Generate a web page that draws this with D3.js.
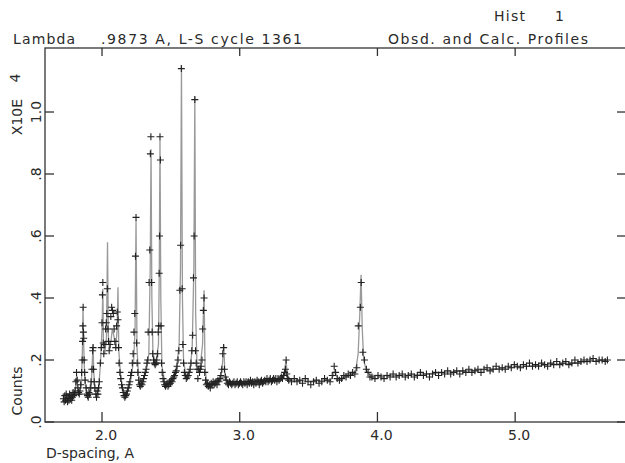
<!DOCTYPE html>
<meta charset="utf-8">
<style>
  body { margin: 0; background: #fff; }
  text { font-family: "DejaVu Sans", sans-serif; fill: #2a2a2a; }
</style>
<svg width="625" height="463"></svg>
<script src="https://d3js.org/d3.v7.min.js"></script>
<script>

// observed profile, [d-spacing (A), counts x 1e4]
var obsPoints = [
  [1.72,0.075],[1.725,0.065],[1.73,0.085],[1.735,0.07],[1.74,0.09],[1.745,0.075],[1.75,0.065],[1.755,0.08],
  [1.76,0.07],[1.765,0.09],[1.77,0.075],[1.775,0.085],[1.78,0.07],[1.785,0.08],[1.79,0.095],[1.795,0.085],
  [1.80,0.09],[1.805,0.1],[1.81,0.13],[1.815,0.16],[1.82,0.135],[1.825,0.11],[1.83,0.095],[1.835,0.09],
  [1.84,0.1],[1.845,0.12],[1.852,0.16],[1.856,0.2],[1.859,0.26],[1.861,0.31],[1.863,0.37],[1.865,0.29],
  [1.867,0.27],[1.87,0.2],[1.874,0.16],[1.878,0.135],[1.885,0.11],[1.89,0.09],[1.895,0.085],[1.90,0.08],
  [1.905,0.095],[1.91,0.09],[1.915,0.11],[1.92,0.13],[1.927,0.17],[1.932,0.23],[1.935,0.24],[1.938,0.17],
  [1.943,0.13],[1.948,0.11],[1.955,0.09],[1.96,0.08],[1.965,0.1],[1.97,0.09],[1.975,0.11],[1.98,0.13],
  [1.988,0.19],[1.995,0.24],[2.0,0.32],[2.003,0.41],[2.006,0.45],[2.009,0.255],[2.013,0.22],[2.02,0.25],
  [2.026,0.3],[2.031,0.32],[2.035,0.35],[2.039,0.43],[2.043,0.3],[2.047,0.26],[2.052,0.23],[2.058,0.25],
  [2.064,0.34],[2.07,0.37],[2.076,0.36],[2.082,0.35],[2.088,0.3],[2.094,0.26],[2.1,0.24],[2.106,0.31],
  [2.111,0.355],[2.116,0.33],[2.12,0.24],[2.124,0.19],[2.13,0.16],[2.136,0.14],[2.142,0.12],[2.148,0.11],
  [2.154,0.095],[2.16,0.085],[2.166,0.08],[2.172,0.085],[2.178,0.09],[2.184,0.1],[2.19,0.11],[2.196,0.12],
  [2.202,0.13],[2.208,0.15],[2.214,0.16],[2.22,0.19],[2.226,0.22],[2.232,0.29],[2.238,0.35],[2.243,0.535],
  [2.247,0.66],[2.251,0.255],[2.255,0.19],[2.26,0.16],[2.266,0.135],[2.272,0.12],[2.278,0.115],[2.284,0.125],
  [2.29,0.12],[2.296,0.13],[2.302,0.14],[2.308,0.15],[2.314,0.16],[2.32,0.17],[2.326,0.19],[2.332,0.2],
  [2.335,0.29],[2.342,0.45],[2.347,0.555],[2.351,0.865],[2.355,0.92],[2.36,0.45],[2.364,0.29],[2.368,0.22],
  [2.374,0.2],[2.38,0.19],[2.386,0.185],[2.392,0.19],[2.398,0.2],[2.404,0.22],[2.408,0.29],[2.412,0.31],
  [2.415,0.48],[2.418,0.6],[2.421,0.92],[2.424,0.845],[2.428,0.31],[2.432,0.19],[2.437,0.16],[2.443,0.14],
  [2.449,0.13],[2.455,0.12],[2.461,0.115],[2.467,0.12],[2.473,0.125],[2.479,0.115],[2.485,0.12],[2.491,0.13],
  [2.497,0.125],[2.503,0.135],[2.509,0.13],[2.515,0.14],[2.521,0.145],[2.527,0.15],[2.533,0.16],[2.539,0.165],
  [2.545,0.18],[2.552,0.2],[2.558,0.23],[2.565,0.425],[2.571,0.57],[2.576,1.14],[2.582,0.43],[2.587,0.25],
  [2.592,0.19],[2.598,0.16],[2.605,0.15],[2.612,0.14],[2.619,0.145],[2.626,0.15],[2.633,0.16],[2.64,0.17],
  [2.646,0.19],[2.652,0.23],[2.658,0.28],[2.664,0.465],[2.669,0.6],[2.674,1.04],[2.679,0.23],[2.684,0.19],
  [2.69,0.17],[2.696,0.14],[2.702,0.17],[2.708,0.16],[2.714,0.17],[2.72,0.18],[2.726,0.2],[2.731,0.3],
  [2.736,0.36],[2.741,0.40],[2.746,0.16],[2.752,0.135],[2.758,0.12],[2.765,0.125],[2.772,0.115],[2.779,0.12],
  [2.786,0.11],[2.793,0.125],[2.8,0.12],[2.807,0.13],[2.814,0.12],[2.821,0.125],[2.828,0.13],[2.835,0.12],
  [2.842,0.135],[2.849,0.13],[2.856,0.14],[2.863,0.15],[2.87,0.17],[2.877,0.22],[2.883,0.24],[2.889,0.17],
  [2.895,0.145],[2.902,0.135],[2.91,0.125],[2.918,0.12],[2.926,0.13],[2.934,0.125],[2.942,0.12],[2.95,0.125],
  [2.958,0.13],[2.966,0.12],[2.974,0.125],[2.982,0.13],[2.99,0.12],[2.998,0.125],[3.006,0.13],[3.014,0.125],
  [3.022,0.12],[3.03,0.13],[3.038,0.125],[3.046,0.13],[3.054,0.12],[3.062,0.13],[3.07,0.125],[3.078,0.135],
  [3.086,0.125],[3.094,0.13],[3.102,0.12],[3.11,0.13],[3.118,0.125],[3.126,0.135],[3.134,0.13],[3.142,0.12],
  [3.15,0.13],[3.158,0.135],[3.166,0.125],[3.174,0.13],[3.182,0.135],[3.19,0.13],[3.198,0.14],[3.206,0.13],
  [3.214,0.135],[3.222,0.14],[3.23,0.13],[3.238,0.135],[3.246,0.14],[3.254,0.135],[3.262,0.14],[3.27,0.13],
  [3.278,0.14],[3.286,0.135],[3.294,0.14],[3.302,0.145],[3.31,0.14],[3.318,0.15],[3.326,0.16],[3.332,0.17],
  [3.337,0.2],[3.342,0.155],[3.348,0.14],[3.356,0.135],[3.376,0.13],[3.396,0.14],[3.416,0.13],[3.436,0.135],
  [3.456,0.125],[3.476,0.14],[3.496,0.13],[3.516,0.12],[3.536,0.13],[3.556,0.135],[3.576,0.125],[3.596,0.13],
  [3.616,0.14],[3.636,0.135],[3.656,0.13],[3.672,0.15],[3.686,0.18],[3.696,0.16],[3.708,0.14],[3.724,0.135],
  [3.74,0.14],[3.756,0.15],[3.772,0.145],[3.788,0.155],[3.804,0.15],[3.82,0.16],[3.836,0.155],[3.85,0.175],
  [3.861,0.31],[3.876,0.37],[3.882,0.45],[3.894,0.225],[3.906,0.2],[3.92,0.17],[3.932,0.16],[3.946,0.145],
  [3.96,0.145],[3.982,0.14],[4.004,0.15],[4.026,0.145],[4.048,0.14],[4.07,0.15],[4.092,0.145],[4.114,0.155],
  [4.136,0.145],[4.158,0.15],[4.18,0.155],[4.202,0.145],[4.224,0.15],[4.246,0.155],[4.268,0.145],[4.29,0.15],
  [4.312,0.16],[4.334,0.15],[4.356,0.155],[4.378,0.145],[4.4,0.155],[4.422,0.16],[4.444,0.15],[4.466,0.16],
  [4.488,0.155],[4.51,0.165],[4.532,0.155],[4.554,0.16],[4.576,0.165],[4.598,0.155],[4.62,0.165],[4.642,0.16],
  [4.664,0.17],[4.686,0.16],[4.708,0.165],[4.73,0.17],[4.752,0.16],[4.774,0.17],[4.796,0.175],[4.818,0.165],
  [4.84,0.17],[4.862,0.18],[4.884,0.17],[4.906,0.175],[4.928,0.17],[4.95,0.18],[4.972,0.175],[4.994,0.185],
  [5.016,0.18],[5.038,0.175],[5.06,0.185],[5.082,0.18],[5.104,0.19],[5.126,0.18],[5.148,0.185],[5.17,0.18],
  [5.192,0.19],[5.214,0.185],[5.236,0.18],[5.258,0.19],[5.28,0.185],[5.302,0.195],[5.324,0.185],[5.346,0.19],
  [5.368,0.195],[5.39,0.185],[5.412,0.19],[5.434,0.2],[5.456,0.19],[5.478,0.195],[5.5,0.2],[5.522,0.195],
  [5.544,0.2],[5.566,0.205],[5.588,0.195],[5.61,0.2],[5.632,0.2],[5.654,0.195],[5.67,0.2]
];

// calculated profile
var calcPoints = [
  [1.72,0.075],[1.80,0.085],[1.81,0.12],[1.816,0.15],[1.822,0.11],[1.835,0.09],[1.85,0.12],[1.857,0.22],
  [1.862,0.37],[1.867,0.25],[1.875,0.13],[1.89,0.09],[1.92,0.1],[1.93,0.2],[1.935,0.25],[1.94,0.16],
  [1.95,0.1],[1.975,0.1],[1.99,0.2],[2.0,0.3],[2.006,0.43],[2.011,0.25],[2.02,0.22],[2.032,0.27],
  [2.04,0.58],[2.046,0.28],[2.055,0.23],[2.065,0.26],[2.075,0.3],[2.085,0.28],[2.1,0.24],[2.11,0.3],
  [2.116,0.435],[2.122,0.23],[2.135,0.15],[2.15,0.11],[2.167,0.085],[2.19,0.1],[2.21,0.14],[2.23,0.2],
  [2.24,0.3],[2.247,0.65],[2.254,0.24],[2.265,0.15],[2.29,0.125],[2.32,0.16],[2.34,0.22],[2.35,0.5],
  [2.356,0.88],[2.362,0.4],[2.37,0.22],[2.39,0.19],[2.41,0.25],[2.416,0.5],[2.421,0.91],[2.427,0.4],
  [2.435,0.18],[2.46,0.12],[2.5,0.13],[2.54,0.17],[2.56,0.25],[2.57,0.5],[2.577,1.15],[2.584,0.4],
  [2.592,0.2],[2.61,0.145],[2.64,0.17],[2.655,0.24],[2.667,0.5],[2.674,1.05],[2.68,0.35],[2.69,0.18],
  [2.71,0.165],[2.73,0.25],[2.741,0.425],[2.748,0.18],[2.76,0.125],[2.8,0.12],[2.86,0.14],[2.875,0.19],
  [2.884,0.25],[2.892,0.16],[2.91,0.13],[3.0,0.125],[3.1,0.128],[3.2,0.132],[3.3,0.14],[3.325,0.16],
  [3.336,0.2],[3.346,0.15],[3.37,0.135],[3.5,0.132],[3.66,0.135],[3.68,0.15],[3.69,0.17],[3.70,0.15],
  [3.72,0.14],[3.8,0.15],[3.84,0.16],[3.86,0.22],[3.872,0.35],[3.881,0.475],[3.89,0.3],[3.9,0.2],
  [3.92,0.165],[3.95,0.15],[4.2,0.15],[4.5,0.16],[4.8,0.17],[5.1,0.18],[5.4,0.19],[5.67,0.2]
];

var xTicks = [2, 3, 4, 5];
var xTickLabels = ["2.0", "3.0", "4.0", "5.0"];
var yTicks = [0, 0.2, 0.4, 0.6, 0.8, 1.0];
var yTickLabels = [".0", ".2", ".4", ".6", ".8", "1.0"];

var svg = d3.select("svg");

var plotLeft = 45, plotRight = 626, plotTop = 48, plotBottom = 422;

var x = d3.scaleLinear().domain([1.586, 5.805]).range([plotLeft, plotRight]);
var y = d3.scaleLinear().domain([0, 1.2065]).range([plotBottom, plotTop]);

var ink = "#333";

// frame
svg.append("rect")
  .attr("x", plotLeft).attr("y", plotTop)
  .attr("width", plotRight - plotLeft).attr("height", plotBottom - plotTop)
  .attr("fill", "none").attr("stroke", ink).attr("stroke-width", 1.3);

// ticks on all four sides
var tk = svg.append("g").attr("stroke", ink).attr("stroke-width", 1.3);
tk.selectAll(".xb").data(xTicks).enter().append("line")
  .attr("x1", d => x(d)).attr("x2", d => x(d))
  .attr("y1", plotBottom).attr("y2", plotBottom - 10);
tk.selectAll(".xt").data(xTicks).enter().append("line")
  .attr("x1", d => x(d)).attr("x2", d => x(d))
  .attr("y1", plotTop).attr("y2", plotTop + 8);
tk.selectAll(".yl").data(yTicks).enter().append("line")
  .attr("x1", plotLeft).attr("x2", plotLeft + 9)
  .attr("y1", d => y(d)).attr("y2", d => y(d));
tk.selectAll(".yr").data(yTicks).enter().append("line")
  .attr("x1", plotRight).attr("x2", plotRight - 9)
  .attr("y1", d => y(d)).attr("y2", d => y(d));

// calculated profile line
var line = d3.line().x(d => x(d[0])).y(d => y(d[1]));
svg.append("path")
  .datum(calcPoints)
  .attr("d", line)
  .attr("fill", "none")
  .attr("stroke", "#999")
  .attr("stroke-width", 1.3);

// observed points as crosses
svg.append("g")
  .selectAll("path")
  .data(obsPoints)
  .enter().append("path")
  .attr("transform", d => "translate(" + x(d[0]) + "," + y(d[1]) + ")")
  .attr("d", "M-3.5,0H3.5M0,-3.5V3.5")
  .attr("stroke", "#222")
  .attr("stroke-width", 1.1)
  .attr("fill", "none");

// tick labels
svg.selectAll(".xl").data(xTicks).enter().append("text")
  .attr("x", d => x(d) + 4).attr("y", 440)
  .attr("text-anchor", "middle")
  .attr("font-size", 14)
  .text((d, i) => xTickLabels[i]);

svg.selectAll(".ylab").data(yTicks).enter().append("text")
  .attr("transform", d => "translate(41," + y(d) + ") rotate(-90)")
  .attr("text-anchor", "middle")
  .attr("font-size", 14)
  .text((d, i) => yTickLabels[i]);

// axis titles and header
svg.append("text").attr("x", 46).attr("y", 458).attr("font-size", 14)
  .attr("textLength", 88).text("D-spacing, A");

svg.append("text").attr("transform", "translate(22,391) rotate(-90)")
  .attr("text-anchor", "middle").attr("font-size", 14).text("Counts");
svg.append("text").attr("transform", "translate(22,117) rotate(-90)")
  .attr("text-anchor", "middle").attr("font-size", 14).text("X10E");
svg.append("text").attr("transform", "translate(20,78) rotate(-90)")
  .attr("text-anchor", "middle").attr("font-size", 14).text("4");

svg.append("text").attr("x", 13).attr("y", 44).attr("font-size", 14)
  .attr("textLength", 62).text("Lambda");
svg.append("text").attr("x", 101).attr("y", 44).attr("font-size", 14)
  .attr("textLength", 201).text(".9873 A, L-S cycle 1361");
svg.append("text").attr("x", 388).attr("y", 44).attr("font-size", 14)
  .attr("textLength", 200).text("Obsd. and Calc. Profiles");
svg.append("text").attr("x", 494).attr("y", 21).attr("font-size", 14)
  .attr("textLength", 31).text("Hist");
svg.append("text").attr("x", 555).attr("y", 21).attr("font-size", 14).text("1");

</script>
